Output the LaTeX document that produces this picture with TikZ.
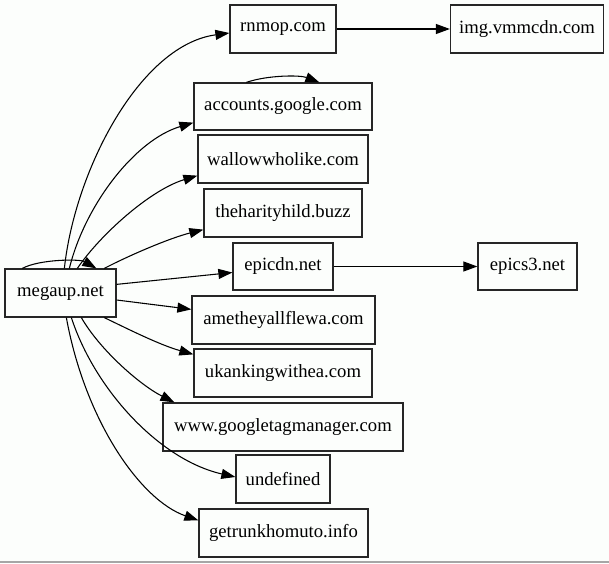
\documentclass[tikz,border=0pt]{standalone}
\usepackage{fontspec}
\setmainfont{Liberation Serif}
\usetikzlibrary{arrows.meta,calc}
\begin{document}
\begin{tikzpicture}[x=0.75pt,y=-0.75pt,
  box/.style={draw=black!85,line width=0.95pt,rectangle,inner sep=0pt,
    minimum height=48*0.75pt,font=\fontsize{14}{16}\selectfont},
  edge/.style={line width=0.8pt,-{Triangle[length=10.5pt,width=7.5pt]}}]
\fill[fill={rgb,255:red,252;green,254;blue,252}] (0,0) rectangle (609,563);
\useasboundingbox (0,0) rectangle (609,563);
\draw[line width=1.2pt,draw=black!35] (0,562) -- (609,562);

\node[box,minimum width=111*0.75pt] (megaup) at (60.5,293) {megaup.net};
\node[box,minimum width=106*0.75pt] (rnmop) at (283,29) {rnmop.com};
\node[box,minimum width=153*0.75pt] (img) at (527,29) {img.vmmcdn.com};
\node[box,minimum width=178*0.75pt,minimum height=47*0.75pt] (accounts) at (283,106.5) {accounts.google.com};
\node[box,minimum width=170*0.75pt] (wallow) at (283,159) {wallowwholike.com};
\node[box,minimum width=158*0.75pt] (theharity) at (283,213) {theharityhild.buzz};
\node[box,minimum width=100*0.75pt,minimum height=47*0.75pt] (epicdn) at (283,266.5) {epicdn.net};
\node[box,minimum width=99*0.75pt,minimum height=47*0.75pt] (epics) at (527.5,266.5) {epics3.net};
\node[box,minimum width=183*0.75pt] (ameth) at (283.5,320) {ametheyallflewa.com};
\node[box,minimum width=178*0.75pt] (ukank) at (283,373) {ukankingwithea.com};
\node[box,minimum width=240*0.75pt] (gtm) at (283,427) {www.googletagmanager.com};
\node[box,minimum width=94*0.75pt] (undef) at (283,479) {undefined};
\node[box,minimum width=169*0.75pt] (getrunk) at (283.5,533) {getrunkhomuto.info};

% self loops
\draw[edge] ($(megaup.north west)+(18,0)$) .. controls (40,259) and (80,259) .. ($(megaup.north west)+(92,0)$);
\draw[edge] ($(accounts.north west)+(53,0)$) .. controls (268,75) and (300,75) .. ($(accounts.north west)+(126,0)$);

% upper fan
\draw[edge] ($(megaup.north west)+(60,0)$) .. controls (75,170) and (140,45) .. ($(rnmop.west)+(0,4)$);
\draw[edge] ($(megaup.north west)+(65,0)$) .. controls (85,205) and (135,140) .. ($(accounts.south west)+(0,-8)$);
\draw[edge] ($(megaup.north west)+(73,0)$) .. controls (100,235) and (150,190) .. ($(wallow.south west)+(0,-8)$);
\draw[edge] ($(megaup.north west)+(100,0)$) .. controls (130,255) and (170,238) .. ($(theharity.south west)+(0,-8)$);
\draw[edge] ($(megaup.north east)+(0,16)$) -- ($(epicdn.west)+(0,6)$);

% lower fan
\draw[edge] ($(megaup.east)+(0,7)$) -- ($(ameth.north west)+(0,14)$);
\draw[edge] ($(megaup.south west)+(100,0)$) .. controls (130,330) and (160,345) .. ($(ukank.north west)+(0,6)$);
\draw[edge] ($(megaup.south west)+(77,0)$) .. controls (100,350) and (140,385) .. ($(gtm.north west)+(12,0)$);
\draw[edge] ($(megaup.south west)+(67,0)$) .. controls (95,390) and (160,460) .. ($(undef.west)+(0,-2)$);
\draw[edge] ($(megaup.south west)+(62,0)$) .. controls (85,420) and (140,500) .. ($(getrunk.north west)+(0,12)$);

% right edges
\draw[edge] (rnmop.east) -- (img.west);
\draw[edge] (epicdn.east) -- (epics.west);
\end{tikzpicture}
\end{document}
